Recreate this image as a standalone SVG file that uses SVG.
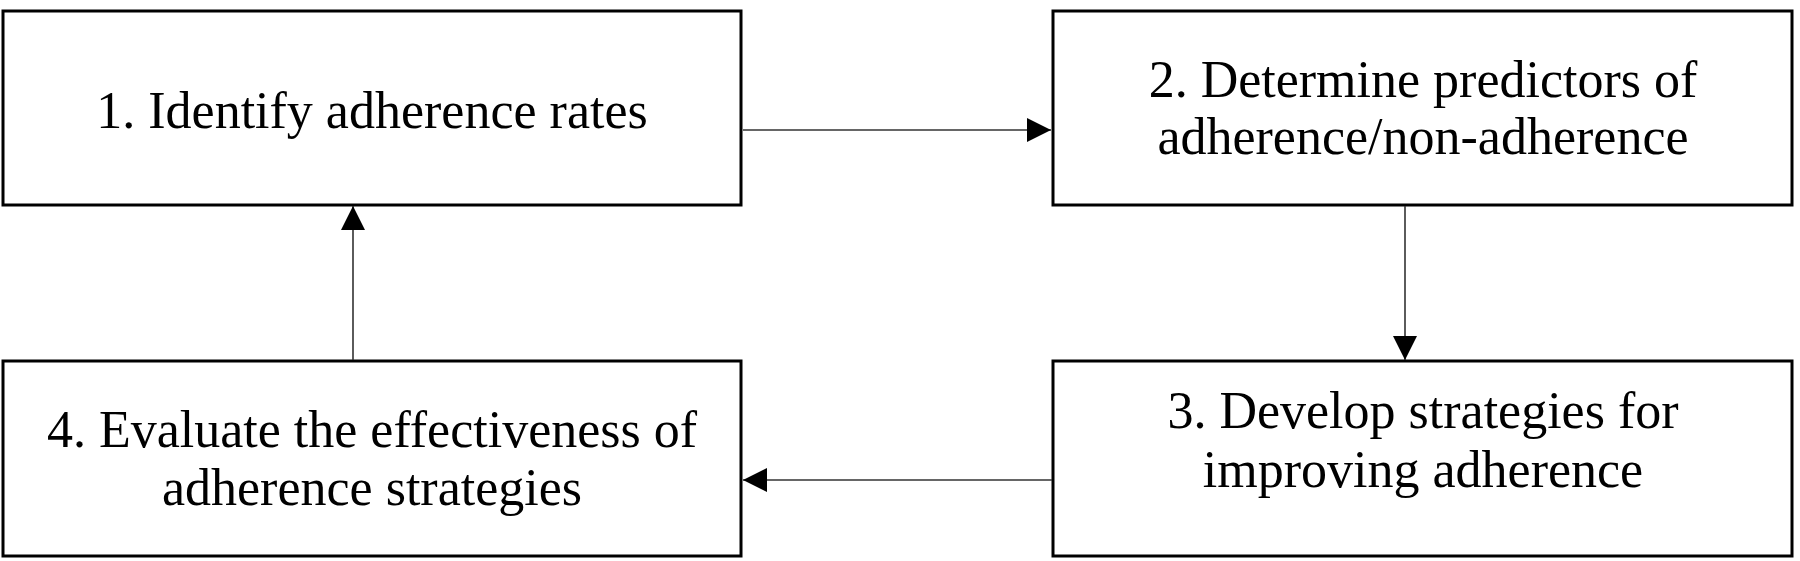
<svg xmlns="http://www.w3.org/2000/svg" width="1800" height="561" viewBox="0 0 1800 561">
  <style>
    .box { fill: #ffffff; stroke: #000000; stroke-width: 3; }
    .lbl { font-family: "Liberation Serif", "Times New Roman", serif; font-size: 52px; fill: #000000; text-anchor: middle; }
    .conn { stroke: #333333; stroke-width: 1.6; fill: none; marker-end: url(#arrow); }
  </style>
  <defs>
    <marker id="arrow" markerUnits="userSpaceOnUse" markerWidth="24" markerHeight="24" refX="24" refY="12" orient="auto">
      <path d="M0,0 L24,12 L0,24 Z" fill="#000000"/>
    </marker>
  </defs>
  <rect width="1800" height="561" fill="#ffffff"/>
  <g id="node1">
    <rect class="box" x="3" y="11" width="738" height="194"/>
    <text class="lbl" x="372" y="128">1. Identify adherence rates</text>
  </g>
  <g id="node2">
    <rect class="box" x="1053" y="11" width="739" height="194"/>
    <text class="lbl" x="1423" y="97">2. Determine predictors of</text>
    <text class="lbl" x="1423" y="154">adherence/non-adherence</text>
  </g>
  <g id="node3">
    <rect class="box" x="1053" y="361" width="739" height="195"/>
    <text class="lbl" x="1423" y="428">3. Develop strategies for</text>
    <text class="lbl" x="1423" y="487">improving adherence</text>
  </g>
  <g id="node4">
    <rect class="box" x="3" y="361" width="738" height="195"/>
    <text class="lbl" x="372" y="447">4. Evaluate the effectiveness of</text>
    <text class="lbl" x="372" y="505">adherence strategies</text>
  </g>
  <g id="connectors">
    <line class="conn" x1="743" y1="130" x2="1051" y2="130"/>
    <line class="conn" x1="1405" y1="206" x2="1405" y2="360"/>
    <line class="conn" x1="1052" y1="480" x2="743" y2="480"/>
    <line class="conn" x1="353" y1="360" x2="353" y2="206"/>
  </g>
</svg>
